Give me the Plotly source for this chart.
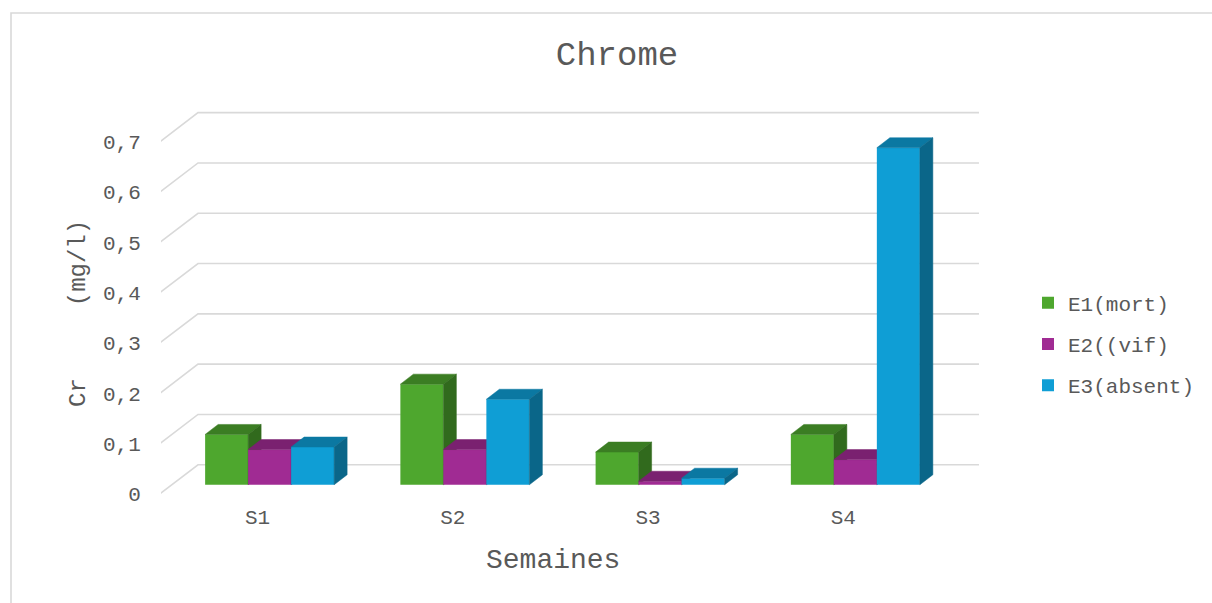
import plotly.graph_objects as go

# ---- data -------------------------------------------------------------
WEEKS = ["S1", "S2", "S3", "S4"]
SERIES = ["E1(mort)", "E2((vif)", "E3(absent)"]
E1_MORT = [0.10, 0.20, 0.065, 0.10]
E2_VIF = [0.07, 0.07, 0.007, 0.05]
E3_ABSENT = [0.075, 0.17, 0.013, 0.67]
Y_TICKS = [0, 0.1, 0.2, 0.3, 0.4, 0.5, 0.6, 0.7]

VALUES = [E1_MORT, E2_VIF, E3_ABSENT]

# ---- styling ----------------------------------------------------------
FRONT = ["#4EA72E", "#A02B93", "#0F9ED5"]
TOP = ["#3B7D23", "#7A2170", "#0B78A2"]
SIDE = ["#316A1D", "#661B5E", "#0A6689"]
GRID = "#D9D9D9"
TEXT = "#595959"
FONT = "Liberation Mono, Courier New, monospace"

# plot box in pixels
M_L, M_R, M_T, M_B = 161, 233, 100, 109
PLOT_W = 1212 - M_L - M_R
PLOT_H = 603 - M_T - M_B
UNIT_PX = 503.0                      # pixels per 1 mg/l
X_RANGE = [-0.5564, 3.6333]          # category units of the bar plane
CAT_PX = PLOT_W / (X_RANGE[1] - X_RANGE[0])

# oblique 3-D offsets (category units / value units)
BAR_W = 43 / CAT_PX
DEPTH_DX, DEPTH_DY = 13 / CAT_PX, 10 / UNIT_PX
FLOOR_DX, FLOOR_DY = -12 / CAT_PX, -9 / UNIT_PX
BACK_DX, BACK_DY = 26 / CAT_PX, 20 / UNIT_PX

LABEL_RANGE = [-0.0005, -0.0005 + PLOT_H / UNIT_PX]
BAR_RANGE = [LABEL_RANGE[0] + FLOOR_DY, LABEL_RANGE[1] + FLOOR_DY]

fig = go.Figure()

# base subplot: carries the value labels and the week labels
fig.add_trace(go.Scatter(x=[None], y=[None], mode="markers", showlegend=False,
                         hoverinfo="skip", xaxis="x", yaxis="y"))

for s, (name, vals) in enumerate(zip(SERIES, VALUES)):
    yax = f"y{s + 2}"
    centers = [k + (s - 1) * BAR_W for k in range(len(WEEKS))]
    fig.add_trace(go.Bar(
        x=centers, y=vals, width=BAR_W, name=name, legendgroup=name,
        marker=dict(color=FRONT[s], line=dict(width=0)),
        xaxis="x", yaxis=yax,
    ))
    top_x, top_y, side_x, side_y = [], [], [], []
    for c, v in zip(centers, vals):
        x0, x1 = c - BAR_W / 2, c + BAR_W / 2
        top_x += [x0, x1, x1 + DEPTH_DX, x0 + DEPTH_DX, x0, None]
        top_y += [v, v, v + DEPTH_DY, v + DEPTH_DY, v, None]
        side_x += [x1, x1 + DEPTH_DX, x1 + DEPTH_DX, x1, x1, None]
        side_y += [0, DEPTH_DY, v + DEPTH_DY, v, 0, None]
    for fx, fy, col in ((top_x, top_y, TOP[s]), (side_x, side_y, SIDE[s])):
        fig.add_trace(go.Scatter(
            x=fx, y=fy, fill="toself", fillcolor=col, mode="lines",
            line=dict(width=0.5, color=col), hoverinfo="skip",
            showlegend=False, legendgroup=name, xaxis="x", yaxis=yax,
        ))

# back-wall gridlines with their diagonal floor edge (value-label axis)
shapes = []
for g in Y_TICKS:
    path = (f"M {-0.5 + FLOOR_DX} {g} "
            f"L {-0.5 + BACK_DX} {g + BACK_DY - FLOOR_DY} "
            f"L {len(WEEKS) - 0.5 + BACK_DX} {g + BACK_DY - FLOOR_DY}")
    shapes.append(dict(type="path", path=path, xref="x", yref="y",
                       layer="below", line=dict(color=GRID, width=1.6)))

# chart-area border
shapes.append(dict(type="rect", xref="paper", yref="paper",
                   x0=(11 - M_L) / PLOT_W, x1=1.4,
                   y0=-0.4, y1=(603 - M_B - 13) / PLOT_H,
                   line=dict(color=GRID, width=1.6), layer="below"))

overlay = dict(overlaying="y", anchor="x", range=BAR_RANGE, visible=False,
               fixedrange=True)

fig.update_layout(
    width=1212, height=603,
    margin=dict(l=M_L, r=M_R, t=M_T, b=M_B),
    paper_bgcolor="white", plot_bgcolor="rgba(0,0,0,0)",
    barmode="overlay",
    separators=", ",
    font=dict(family=FONT, color=TEXT, size=21),
    title=dict(text="Chrome", font=dict(size=34, color=TEXT, family=FONT),
               x=(617 - M_L) / PLOT_W, xref="paper", xanchor="center",
               y=1 - 53 / 603, yref="container", yanchor="middle"),
    xaxis=dict(range=X_RANGE, anchor="y", tickmode="array",
               tickvals=[k + FLOOR_DX for k in range(len(WEEKS))],
               ticktext=WEEKS, showgrid=False, zeroline=False, showline=False,
               ticks="outside", ticklen=4, tickcolor="rgba(0,0,0,0)",
               tickfont=dict(size=21), fixedrange=True),
    yaxis=dict(range=LABEL_RANGE, anchor="x", tickmode="array", tickvals=Y_TICKS,
               showgrid=False, zeroline=False, showline=False,
               ticks="outside", ticklen=15, tickcolor="rgba(0,0,0,0)",
               tickfont=dict(size=21), fixedrange=True),
    yaxis2=overlay, yaxis3=overlay, yaxis4=overlay,
    shapes=shapes,
    annotations=[
        dict(text="Semaines", xref="paper", yref="paper",
             x=(553 - M_L) / PLOT_W, y=(603 - M_B - 560) / PLOT_H,
             xanchor="center", yanchor="middle", showarrow=False,
             font=dict(size=28, color=TEXT, family=FONT)),
        dict(text="Cr\u00a0\u00a0\u00a0\u00a0\u00a0(mg/l)", xref="paper", yref="paper",
             x=(78 - M_L) / PLOT_W, y=(603 - M_B - 314) / PLOT_H,
             xanchor="center", yanchor="middle", textangle=-90, showarrow=False,
             font=dict(size=24, color=TEXT, family=FONT)),
    ],
    legend=dict(x=1.0 + (1028 - 979) / PLOT_W, xanchor="left",
                y=(603 - M_B - 344) / PLOT_H, yanchor="middle",
                font=dict(size=21, color=TEXT), tracegroupgap=11,
                bgcolor="rgba(0,0,0,0)"),
    showlegend=True,
)

fig.write_html("out.html")
